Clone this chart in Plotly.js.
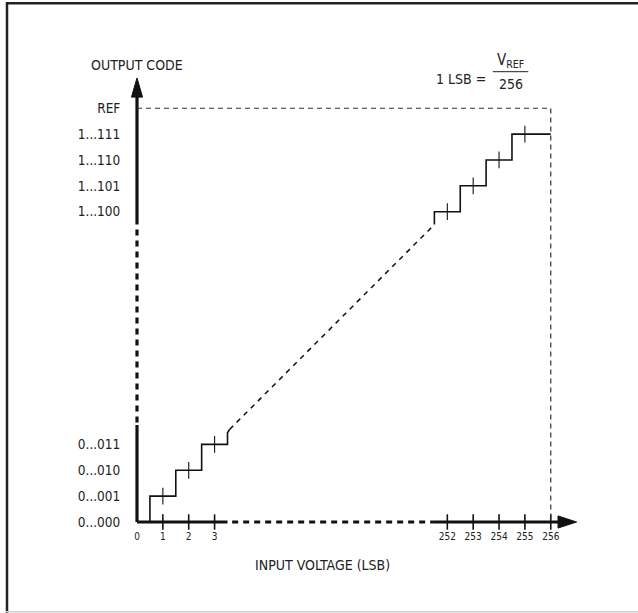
<!DOCTYPE html>
<html>
<head>
<meta charset="utf-8">
<script src="https://cdn.plot.ly/plotly-3.0.1.min.js"></script>
<style>html,body{margin:0;padding:0;background:#fff;}#chart{width:638px;height:613px;}</style>
</head>
<body>
<div id="chart"></div>
<script>
// ---------- data ----------
const inputTickValues = [0, 1, 2, 3, 252, 253, 254, 255, 256];
const inputTickLabels = ['0', '1', '2', '3', '252', '253', '254', '255', '256'];
const codeValues = [0, 1, 2, 3, 252, 253, 254, 255, 256];
const codeLabels = ['0...000', '0...001', '0...010', '0...011', '1...100', '1...101', '1...110', '1...111', 'REF'];
const lowCodes = [0, 1, 2, 3];
const highCodes = [252, 253, 254, 255];
const fullScale = 256;          // REF = 256 LSB
const breakShift = 240;         // axis break: 252..256 drawn right after 3..4

// ---------- axis-break mapping ----------
function brk(v) { return v > 128 ? v - breakShift : v; }

// ---------- geometry helpers (figure is 638 x 613, no margins) ----------
const W = 638, H = 613;
const U = 25.86;               // px per LSB
const X0 = 137, Y0 = 522;      // origin in px
const xRange = [-X0 / U, (W - X0) / U];
const yRange = [-(H - Y0) / U, Y0 / U];
function px(x) { return x / W; }
function py(y) { return 1 - y / H; }

const ink = '#111';
const txt = '#222';
const FONT = 'DejaVu Sans Condensed, Liberation Sans Narrow, Arial Narrow, sans-serif';

// ---------- transfer function (built from the code arrays) ----------
const lowX = [], lowY = [];
lowX.push(lowCodes[0] + 0.5); lowY.push(lowCodes[0]);
for (let i = 1; i < lowCodes.length; i++) {
  const c = lowCodes[i];
  lowX.push(c - 0.5, c + 0.5); lowY.push(c, c);
}
const lastLow = lowCodes[lowCodes.length - 1];
lowX.push(lastLow + 0.5, lastLow + 0.58); lowY.push(lastLow + 0.45, lastLow + 0.58);

const hiX = [], hiY = [];
const firstHi = highCodes[0];
hiX.push(firstHi - 0.5); hiY.push(firstHi - 0.5);
for (let i = 0; i < highCodes.length; i++) {
  const c = highCodes[i];
  const xEnd = (i === highCodes.length - 1) ? fullScale : c + 0.5;
  hiX.push(c - 0.5, xEnd); hiY.push(c, c);
}
const diagX = [lastLow + 0.58, firstHi - 0.5];
const diagY = [lastLow + 0.58, firstHi - 0.5];

// step centre ticks
const stepTickCodes = lowCodes.slice(1).concat(highCodes);

const traces = [];
// y axis (thick, broken)
traces.push({x: [0, 0], y: [0, 3.75], mode: 'lines', line: {color: ink, width: 3.2}, hoverinfo: 'skip'});
traces.push({x: [0, 0], y: [3.85, 11.6], mode: 'lines', line: {color: ink, width: 3.2, dash: '6px,5px'}, hoverinfo: 'skip'});
traces.push({x: [0, 0], y: [11.6, 16.5], mode: 'lines', line: {color: ink, width: 3.2}, hoverinfo: 'skip'});
traces.push({x: [-0.215, 0.215, 0, -0.215], y: [16.43, 16.43, 17.17, 16.43], mode: 'lines', fill: 'toself', fillcolor: ink, line: {color: ink, width: 1}, hoverinfo: 'skip'});
// x axis (thick, broken)
traces.push({x: [0, 3.5], y: [0, 0], mode: 'lines', line: {color: ink, width: 3.2}, hoverinfo: 'skip'});
traces.push({x: [3.68, 11.45], y: [0, 0], mode: 'lines', line: {color: ink, width: 3.2, dash: '6px,5px'}, hoverinfo: 'skip'});
traces.push({x: [11.45, 16.35], y: [0, 0], mode: 'lines', line: {color: ink, width: 3.2}, hoverinfo: 'skip'});
traces.push({x: [16.28, 16.28, 17.0, 16.28], y: [-0.235, 0.235, 0, -0.235], mode: 'lines', fill: 'toself', fillcolor: ink, line: {color: ink, width: 1}, hoverinfo: 'skip'});
// x axis tick marks
traces.push({x: inputTickValues.filter(v => v > 0).map(brk), y: inputTickValues.filter(v => v > 0).map(() => 0),
  mode: 'markers', marker: {symbol: 'line-ns', size: 11, line: {color: ink, width: 1.6}}, hoverinfo: 'skip'});
// reference dashed lines
traces.push({x: [0, brk(fullScale), brk(fullScale)], y: [brk(fullScale), brk(fullScale), 0], mode: 'lines',
  line: {color: '#333', width: 1.2, dash: '5px,4px'}, hoverinfo: 'skip'});
// transfer function
traces.push({x: lowX.map(brk), y: lowY.map(brk), mode: 'lines', line: {color: ink, width: 1.6}, hoverinfo: 'skip'});
traces.push({x: diagX.map(brk), y: diagY.map(brk), mode: 'lines', line: {color: ink, width: 1.5, dash: '5px,5px'}, hoverinfo: 'skip'});
traces.push({x: hiX.map(brk), y: hiY.map(brk), mode: 'lines', line: {color: ink, width: 1.6}, hoverinfo: 'skip'});
traces.push({x: stepTickCodes.map(brk), y: stepTickCodes.map(brk), mode: 'markers',
  marker: {symbol: 'line-ns', size: 12, line: {color: ink, width: 1.1}}, hoverinfo: 'skip'});

const layout = {
  width: W, height: H,
  margin: {l: 0, r: 0, t: 0, b: 0},
  paper_bgcolor: '#fff', plot_bgcolor: '#fff',
  showlegend: false,
  xaxis: {
    range: xRange, showgrid: false, zeroline: false, showline: false,
    anchor: 'free', position: (H - Y0) / H,
    tickmode: 'array', tickvals: inputTickValues.map(brk), ticktext: inputTickLabels,
    ticks: 'outside', ticklen: 5, tickcolor: 'rgba(0,0,0,0)',
    tickfont: {family: FONT, size: 10, color: txt}, fixedrange: true
  },
  yaxis: {
    range: yRange, showgrid: false, zeroline: false, showline: false,
    anchor: 'free', position: X0 / W,
    tickmode: 'array', tickvals: codeValues.map(brk), ticktext: codeLabels,
    ticks: 'outside', ticklen: 14, tickcolor: 'rgba(0,0,0,0)',
    tickfont: {family: FONT, size: 13.5, color: txt}, fixedrange: true
  },
  annotations: [
    {xref: 'paper', yref: 'paper', x: px(137), y: py(64.5), text: 'OUTPUT CODE', showarrow: false,
     xanchor: 'center', yanchor: 'middle', font: {family: FONT, size: 14, color: txt}},
    {xref: 'paper', yref: 'paper', x: px(322), y: py(565), text: 'INPUT VOLTAGE (LSB)', showarrow: false,
     xanchor: 'center', yanchor: 'middle', font: {family: FONT, size: 14, color: txt}},
    {xref: 'paper', yref: 'paper', x: px(488), y: py(79), text: '1 LSB =', showarrow: false,
     xanchor: 'right', yanchor: 'middle', font: {family: FONT, size: 14, color: txt}},
    {xref: 'paper', yref: 'paper', x: px(510.5), y: py(60), text: 'V<sub>REF</sub>', showarrow: false,
     xanchor: 'center', yanchor: 'middle', font: {family: FONT, size: 15, color: txt}},
    {xref: 'paper', yref: 'paper', x: px(510.5), y: py(84.5), text: '256', showarrow: false,
     xanchor: 'center', yanchor: 'middle', font: {family: FONT, size: 14, color: txt}}
  ],
  shapes: [
    {type: 'line', xref: 'paper', yref: 'paper', x0: px(492.7), x1: px(528.3), y0: py(71.7), y1: py(71.7), line: {color: txt, width: 1}},
    // frame
    {type: 'line', xref: 'paper', yref: 'paper', x0: px(6), x1: px(638), y0: py(3.2), y1: py(3.2), line: {color: txt, width: 2.5}},
    {type: 'line', xref: 'paper', yref: 'paper', x0: px(7), x1: px(7), y0: py(2), y1: py(613), line: {color: txt, width: 2.5}},
    {type: 'line', xref: 'paper', yref: 'paper', x0: px(6), x1: px(638), y0: py(611.8), y1: py(611.8), line: {color: '#cfcfcf', width: 1.5}}
  ]
};

Plotly.newPlot('chart', traces, layout, {staticPlot: true, displayModeBar: false});
</script>
</body>
</html>
